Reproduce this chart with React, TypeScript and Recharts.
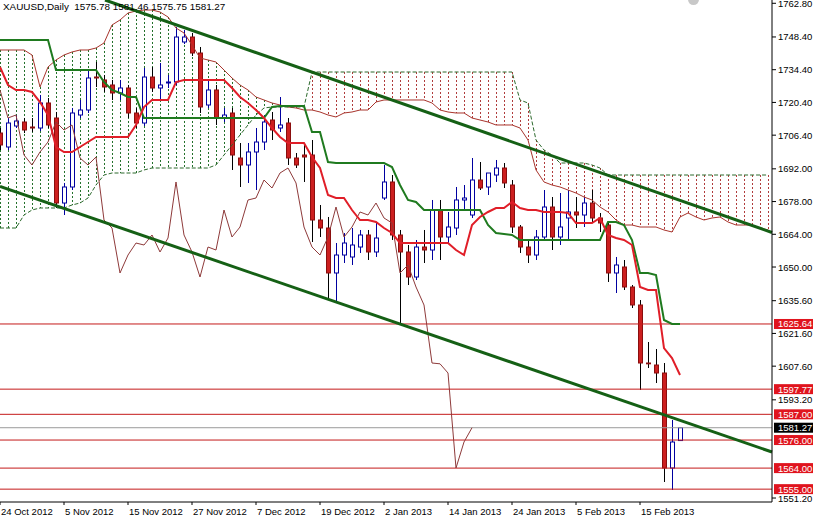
import React from 'react';
import { ComposedChart, Bar, Line, XAxis, YAxis, ReferenceLine } from 'recharts';

// XAUUSD daily, one entry per bar (index 0 = 24 Oct 2012)
const dateTicks = [0, 8, 16, 24, 32, 40, 48, 56, 64, 72, 80];
const dateLabels = ['24 Oct 2012', '5 Nov 2012', '15 Nov 2012', '27 Nov 2012', '7 Dec 2012', '19 Dec 2012',
  '2 Jan 2013', '14 Jan 2013', '24 Jan 2013', '5 Feb 2013', '15 Feb 2013'];

const opens = [1707.32, 1701.34, 1710.32, 1712.03, 1709.89, 1709.46, 1720.16, 1713.74, 1677.38, 1684.23,
  1715.02, 1717.16, 1731.27, 1730.0, 1727.86, 1724.43, 1726.57, 1715.88, 1711.6, 1731.27,
  1726.57, 1728.71, 1729.14, 1746.25, 1748.38, 1741.54, 1719.3, 1725.72, 1713.74, 1715.88,
  1696.63, 1693.64, 1699.2, 1703.47, 1712.88, 1709.46, 1711.6, 1696.63, 1697.91, 1697.91,
  1670.11, 1666.69, 1647.45, 1655.14, 1654.29, 1658.56, 1663.7, 1656.43, 1679.52, 1686.37,
  1663.7, 1656.43, 1645.73, 1658.56, 1657.28, 1674.39, 1662.84, 1666.69, 1678.67, 1672.25,
  1687.22, 1684.23, 1689.36, 1692.35, 1685.08, 1667.12, 1658.56, 1655.14, 1662.84, 1675.67,
  1662.84, 1670.97, 1673.54, 1672.25, 1677.38, 1670.97, 1667.97, 1647.45, 1650.01, 1641.46,
  1633.76, 1608.95, 1608.09, 1604.67, 1564.04, 1575.78];
const highs = [1709.46, 1713.74, 1715.02, 1713.74, 1713.74, 1723.58, 1722.29, 1716.31, 1685.94, 1718.02,
  1721.44, 1734.27, 1737.69, 1732.13, 1730.0, 1730.0, 1727.86, 1718.02, 1735.13, 1735.55,
  1737.26, 1732.13, 1752.66, 1751.38, 1750.1, 1744.11, 1730.0, 1727.86, 1718.02, 1718.02,
  1703.05, 1703.05, 1709.46, 1715.02, 1716.31, 1722.72, 1713.74, 1698.77, 1703.05, 1704.33,
  1676.53, 1671.4, 1660.27, 1664.55, 1666.69, 1665.84, 1665.84, 1668.83, 1693.64, 1689.36,
  1665.84, 1659.42, 1661.56, 1665.84, 1678.67, 1678.67, 1673.54, 1684.23, 1685.08, 1696.63,
  1694.92, 1689.36, 1695.78, 1694.49, 1687.22, 1667.97, 1661.56, 1665.84, 1682.94, 1679.95,
  1681.66, 1682.94, 1679.95, 1679.95, 1682.94, 1673.11, 1669.26, 1654.29, 1653.0, 1642.31,
  1635.89, 1617.93, 1614.93, 1608.95, 1584.57, 1581.46];
const lows = [1700.05, 1700.05, 1709.46, 1707.32, 1707.75, 1708.18, 1709.46, 1675.25, 1672.25, 1682.94,
  1713.74, 1715.88, 1727.0, 1724.86, 1721.44, 1721.44, 1713.74, 1709.46, 1710.32, 1724.86,
  1721.44, 1726.57, 1727.86, 1745.39, 1740.26, 1715.88, 1718.02, 1710.75, 1712.03, 1691.5,
  1684.23, 1685.94, 1682.94, 1700.05, 1704.33, 1707.75, 1693.64, 1692.35, 1686.37, 1660.7,
  1662.84, 1635.89, 1635.04, 1651.72, 1650.87, 1656.0, 1653.0, 1654.29, 1678.67, 1661.56,
  1626.06, 1642.31, 1644.45, 1651.72, 1653.0, 1653.0, 1660.27, 1663.7, 1674.39, 1670.97,
  1682.94, 1680.81, 1686.37, 1683.8, 1664.55, 1656.0, 1651.72, 1653.0, 1661.56, 1657.28,
  1659.42, 1661.56, 1666.69, 1667.12, 1669.26, 1664.98, 1643.6, 1638.89, 1640.17, 1632.47,
  1597.4, 1606.81, 1600.39, 1558.05, 1554.63, 1575.75];
const closes = [1702.19, 1711.6, 1712.46, 1708.61, 1709.46, 1720.16, 1710.75, 1677.38, 1684.23, 1715.88,
  1717.16, 1730.85, 1730.85, 1727.0, 1724.43, 1726.57, 1715.88, 1711.6, 1731.27, 1726.57,
  1727.86, 1729.14, 1748.38, 1748.38, 1741.54, 1718.45, 1725.72, 1713.74, 1715.02, 1697.91,
  1693.64, 1699.2, 1703.47, 1712.03, 1708.61, 1710.75, 1696.63, 1693.64, 1697.06, 1670.11,
  1666.69, 1647.45, 1655.14, 1660.27, 1659.42, 1663.7, 1656.43, 1662.41, 1686.37, 1663.7,
  1656.43, 1645.73, 1658.56, 1657.28, 1674.39, 1662.84, 1667.12, 1678.67, 1679.52, 1687.22,
  1683.8, 1690.21, 1692.35, 1685.94, 1667.12, 1658.56, 1655.14, 1662.84, 1675.67, 1662.84,
  1667.12, 1673.54, 1672.25, 1677.38, 1670.97, 1668.83, 1647.45, 1650.87, 1641.46, 1633.76,
  1608.95, 1608.6, 1604.67, 1564.04, 1575.16, 1581.27];

// Ichimoku lines
const tenkan = [1735.55, 1727.86, 1725.72, 1725.72, 1724.86, 1720.58, 1715.02, 1701.34, 1699.2, 1699.2,
  1701.34, 1703.47, 1705.61, 1705.61, 1705.61, 1705.61, 1705.61, 1710.75, 1718.45, 1721.44,
  1721.44, 1721.44, 1729.14, 1730.0, 1730.0, 1730.0, 1730.0, 1730.0, 1730.0, 1726.57,
  1722.72, 1720.16, 1717.16, 1713.74, 1709.46, 1705.61, 1703.05, 1703.05, 1703.05, 1697.06,
  1692.35, 1680.81, 1679.52, 1679.52, 1674.39, 1670.11, 1670.11, 1669.26, 1666.69, 1664.55,
  1660.27, 1660.27, 1660.27, 1660.27, 1660.27, 1660.27, 1660.27, 1657.28, 1655.14, 1667.97,
  1671.4, 1673.54, 1675.25, 1675.25, 1677.81, 1675.25, 1674.39, 1674.39, 1673.54, 1673.54,
  1673.54, 1673.11, 1668.83, 1668.83, 1668.83, 1670.97, 1663.7, 1662.41, 1661.56, 1659.42,
  1641.46, 1640.17, 1640.17, 1615.36, 1611.08, 1603.81];
const kijun = [1747.1, 1747.1, 1747.1, 1747.1, 1747.1, 1747.1, 1747.1, 1734.27, 1734.27, 1734.27,
  1734.27, 1734.27, 1734.27, 1729.14, 1725.72, 1724.43, 1722.72, 1722.72, 1713.74, 1713.74,
  1713.74, 1713.74, 1713.74, 1713.74, 1713.74, 1713.74, 1713.74, 1713.74, 1713.74, 1713.74,
  1713.74, 1713.74, 1713.74, 1713.74, 1718.45, 1718.87, 1718.87, 1718.87, 1718.87, 1707.75,
  1707.75, 1694.92, 1694.49, 1694.49, 1694.49, 1694.49, 1694.49, 1694.49, 1694.49, 1692.78,
  1685.08, 1678.67, 1677.81, 1674.39, 1674.39, 1674.39, 1674.39, 1674.39, 1674.39, 1674.39,
  1674.39, 1667.97, 1664.55, 1664.12, 1663.7, 1661.56, 1661.56, 1661.56, 1661.56, 1661.56,
  1661.56, 1661.56, 1661.56, 1661.56, 1661.56, 1661.56, 1669.26, 1669.26, 1667.97, 1661.56,
  1647.45, 1647.45, 1646.59, 1627.34, 1625.63, 1625.63];
const spanA = [1742.83, 1742.83, 1742.83, 1742.83, 1740.69, 1727.0, 1735.55, 1738.55, 1740.69, 1741.97,
  1742.83, 1742.83, 1743.68, 1745.82, 1753.52, 1755.66, 1758.65, 1759.51, 1759.93, 1759.93,
  1759.08, 1756.94, 1752.23, 1750.1, 1744.96, 1739.4, 1738.55, 1737.69, 1734.27, 1730.85,
  1727.86, 1725.72, 1722.72, 1721.44, 1720.16, 1719.3, 1718.45, 1718.02, 1717.16, 1717.16,
  1716.31, 1715.02, 1714.17, 1715.88, 1716.31, 1717.16, 1717.16, 1720.58, 1721.44, 1721.44,
  1721.44, 1721.44, 1721.44, 1721.44, 1720.16, 1717.16, 1716.31, 1715.88, 1715.88, 1713.74,
  1712.88, 1712.03, 1710.75, 1710.75, 1710.75, 1709.46, 1704.33, 1691.5, 1686.37, 1685.08,
  1684.23, 1682.94, 1681.66, 1679.95, 1678.67, 1675.67, 1673.54, 1670.11, 1667.97, 1667.97,
  1667.12, 1667.12, 1667.12, 1665.84, 1664.98, 1671.4, 1673.11, 1671.4, 1670.11, 1670.97,
  1671.4, 1669.26, 1667.97, 1667.97, 1667.97, 1666.69, 1665.84];
const spanB = [1666.69, 1666.69, 1666.69, 1672.25, 1674.39, 1675.25, 1675.25, 1675.25, 1675.25, 1676.53,
  1677.38, 1679.52, 1685.08, 1689.36, 1690.21, 1690.21, 1690.21, 1690.21, 1691.5, 1692.35,
  1692.35, 1692.35, 1692.35, 1692.35, 1692.35, 1692.35, 1692.35, 1693.64, 1697.91, 1702.19,
  1706.47, 1710.75, 1715.02, 1718.02, 1718.45, 1718.45, 1718.45, 1718.45, 1718.45, 1733.41,
  1733.41, 1733.41, 1733.41, 1733.41, 1733.41, 1733.41, 1733.41, 1733.41, 1733.41, 1733.41,
  1733.41, 1733.41, 1733.41, 1733.41, 1733.41, 1733.41, 1733.41, 1733.41, 1733.41, 1733.41,
  1733.41, 1733.41, 1733.41, 1733.41, 1733.41, 1721.44, 1720.16, 1704.33, 1700.05, 1697.91,
  1694.49, 1694.49, 1694.49, 1694.49, 1693.64, 1692.35, 1689.36, 1689.36, 1689.36, 1689.36,
  1689.36, 1689.36, 1689.36, 1689.36, 1689.36, 1689.36, 1689.36, 1689.36, 1689.36, 1689.36,
  1689.36, 1689.36, 1689.36, 1689.36, 1689.36, 1689.36, 1689.36];

const priceTicks = [1762.8, 1748.4, 1734.4, 1720.4, 1706.4, 1692.0, 1678.0, 1664.0, 1650.0, 1635.6,
  1621.6, 1607.6, 1593.2, 1551.2];
const levels = [1625.64, 1597.77, 1587.0, 1576.0, 1564.0, 1555.0];
const lastPrice = 1581.27;
const header = 'XAUUSD,Daily  1575.78 1581.46 1575.75 1581.27';

const data = spanA.map((a, i) => ({
  i,
  open: opens[i],
  high: highs[i],
  low: lows[i],
  close: closes[i],
  tenkan: tenkan[i],
  kijun: kijun[i],
  chikou: closes[i + 26], // lagging span: close drawn 26 bars back
  spanA: a,
  spanB: spanB[i],
}));

const FONT = 'Liberation Sans, Arial, sans-serif';

const Candle = (props: any) => {
  const { x, width, y, height, payload } = props;
  if (payload.open == null) return null;
  const { open, close, high, low } = payload;
  const top = Math.min(y, y + height);
  const h = Math.abs(height);
  const k = h / (high - low);
  const cx = Math.round(x + width / 2);
  const yO = top + (high - open) * k;
  const yC = top + (high - close) * k;
  const up = close >= open;
  const bt = Math.min(yO, yC);
  const bh = Math.max(Math.abs(yO - yC), 0.5);
  return (
    <g>
      <line x1={cx + 0.5} x2={cx + 0.5} y1={top} y2={top + h} stroke={up ? '#0000a0' : '#000'} strokeWidth={1} />
      <rect x={cx - 1.5} y={bt} width={4} height={bh} fill={up ? '#fff' : '#cc1f1f'} stroke={up ? '#0000a0' : '#8a0e0e'} strokeWidth={1} />
    </g>
  );
};

const Hatch = (props: any) => {
  const { x, width, y, height, payload } = props;
  const top = Math.min(y, y + height);
  const h = Math.abs(height);
  const cx = Math.round(x + width / 2) + 0.5;
  const bull = payload.spanA >= payload.spanB;
  return <line x1={cx} x2={cx} y1={top} y2={top + h} stroke={bull ? '#22702a' : '#b03c3c'} strokeDasharray="2 2" strokeWidth={1} />;
};

const PriceTag = (props: any) => {
  const { viewBox, price, bg } = props;
  if (!viewBox) return null;
  const x = viewBox.x + viewBox.width + 2;
  const y = viewBox.y;
  return (
    <g>
      <rect x={x} y={y - 5} width={39} height={10} fill={bg} />
      <text x={x + 4} y={y + 3.5} fill="#fff" fontSize={9.5} fontFamily={FONT}>{price.toFixed(2)}</text>
    </g>
  );
};

const PriceTick = (props: any) => {
  const { x, y, payload } = props;
  return (
    <text x={x} y={y + 3.5} fill="#000" fontSize={9.5} fontFamily={FONT} textAnchor="start">
      {Number(payload.value).toFixed(2)}
    </text>
  );
};

const DateTick = (props: any) => {
  const { x, y, payload } = props;
  const idx = dateTicks.indexOf(payload.value);
  return (
    <text x={x + 1} y={y + 8} fill="#000" fontSize={9.5} fontFamily={FONT} textAnchor="start">
      {dateLabels[idx]}
    </text>
  );
};

export default function App() {
  return (
    <div style={{ position: 'absolute', left: 0, top: 0, width: 813, height: 518, background: '#fff', overflow: 'hidden' }}>
      <ComposedChart width={813} height={518} data={data} margin={{ top: 0, right: 0, bottom: 0, left: 0 }}>
        <XAxis dataKey="i" type="number" domain={[0, 96.5]} ticks={dateTicks} interval={0}
          tick={DateTick} tickSize={3} height={16} axisLine={{ stroke: '#000' }} tickLine={{ stroke: '#000' }} />
        <XAxis xAxisId="h" dataKey="i" type="number" domain={[0, 96.5]} hide />
        <YAxis orientation="right" domain={[1549.5, 1764.21]} allowDataOverflow ticks={priceTicks} interval={0}
          width={41} tickSize={4} tick={PriceTick} axisLine={{ stroke: '#000' }} tickLine={{ stroke: '#000' }} />

        <Bar xAxisId="h" dataKey={(d: any) => [Math.min(d.spanA, d.spanB), Math.max(d.spanA, d.spanB)]}
          barSize={6} shape={Hatch} isAnimationActive={false} />
        <Line dataKey="spanA" stroke="#a8342c" strokeWidth={1} dot={false} activeDot={false} isAnimationActive={false} />
        <Line dataKey="spanB" stroke="#2d6a2d" strokeWidth={1} strokeDasharray="4 2" dot={false} activeDot={false} isAnimationActive={false} />

        {levels.map((v) => (
          <ReferenceLine key={v} y={v} stroke="#c41a1a" strokeWidth={1} ifOverflow="visible"
            label={<PriceTag price={v} bg="#e0141e" />} />
        ))}
        <ReferenceLine y={lastPrice} stroke="#9a9a9a" strokeWidth={1} ifOverflow="visible"
          label={<PriceTag price={lastPrice} bg="#000" />} />

        <Line dataKey="chikou" stroke="#8e3a3a" strokeWidth={1} dot={false} activeDot={false} isAnimationActive={false} />
        <Bar dataKey={(d: any) => (d.open == null ? null : [d.low, d.high])} barSize={6} shape={Candle} isAnimationActive={false} />
        <Line dataKey="kijun" stroke="#1f7a1f" strokeWidth={2} dot={false} activeDot={false} isAnimationActive={false} />
        <Line dataKey="tenkan" stroke="#e01e28" strokeWidth={2} dot={false} activeDot={false} isAnimationActive={false} />

        <ReferenceLine segment={[{ x: 13.125, y: 1764.21 }, { x: 96.5, y: 1664.77 }]} stroke="#156015" strokeWidth={3} ifOverflow="visible" />
        <ReferenceLine segment={[{ x: 0, y: 1684.49 }, { x: 96.5, y: 1570.89 }]} stroke="#156015" strokeWidth={3} ifOverflow="visible" />
      </ComposedChart>
      <div style={{ position: 'absolute', left: 3, top: 1, fontFamily: FONT, fontSize: 9.9, color: '#000', whiteSpace: 'pre', pointerEvents: 'none' }}>
        {header}
      </div>
      <div style={{ position: 'absolute', left: 688, top: -6, width: 11, height: 11, borderRadius: '50%', background: '#c8c8c8' }} />
    </div>
  );
}
